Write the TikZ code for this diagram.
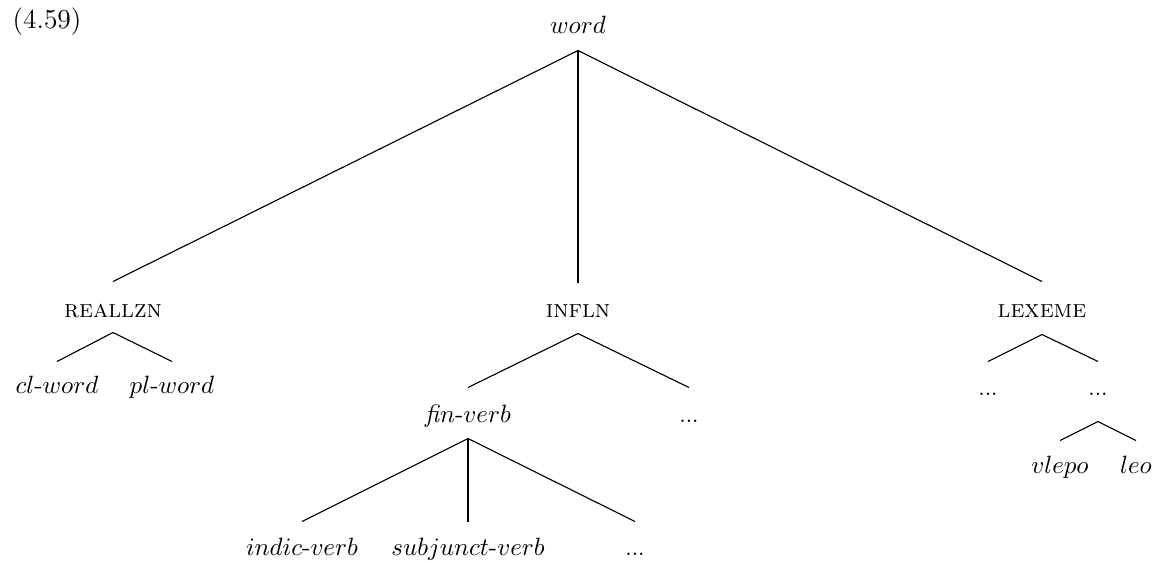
\documentclass[tikz,border=0pt]{standalone}
\usepackage{amsmath}
\usepackage{tikz}
\tikzset{
    cat/.style={
        rectangle,
        draw=none,
        inner sep=0pt,
        text height=7pt,
        text depth=2pt,
        anchor=base
    },
    branch/.style={
        line width=0.45pt
    },
}

\begin{document}
\begin{tikzpicture}[x=0.4pt, y=-0.4pt]
\useasboundingbox (0,0) rectangle (1158,562);

% Example number
\node[anchor=base, font=\fontsize{11}{13}\selectfont] (num) at (47,28) {(4.59)};

% Root
\node[cat] (word) at (578,33) {$word$};

% Level 1
\node[cat] (realzn) at (113,317) {\textsc{reallzn}};
\node[cat] (infln) at (578,317) {\textsc{infln}};
\node[cat] (lexeme) at (1042,317) {\textsc{lexeme}};

% Level 2
\node[cat] (clword) at (57,393) {$cl$-$word$};
\node[cat] (plword) at (172,393) {$pl$-$word$};
\node[cat] (finverb) at (468,422) {\textit{fi}$n$-$verb$};
\node[cat] (dotsA) at (689,422) {\small ...};
\node[cat] (dotsC) at (988,395) {\small ...};
\node[cat] (dotsD) at (1098,395) {\small ...};

% Level 3
\node[cat] (indic) at (302,555) {$indic$-$verb$};
\node[cat] (subj) at (468,555) {$subjunct$-$verb$};
\node[cat] (dotsB) at (635,555) {\small ...};
\node[cat] (vlepo) at (1060,473) {$vlepo$};
\node[cat] (leo) at (1136,473) {$leo$};

% Branches
\draw[branch] ([yshift=-4.8pt]word.south) -- ([yshift=7pt]realzn.north);
\draw[branch] ([yshift=-4.8pt]word.south) -- ([yshift=6.6pt]infln.north);
\draw[branch] ([yshift=-4.8pt]word.south) -- ([yshift=7pt]lexeme.north);

\draw[branch] ([yshift=-4pt]realzn.south) -- ([yshift=5.4pt]clword.north);
\draw[branch] ([yshift=-4pt]realzn.south) -- ([yshift=5.4pt]plword.north);

\draw[branch] ([yshift=-4.4pt]infln.south) -- ([yshift=6.6pt]finverb.north);
\draw[branch] ([yshift=-4.4pt]infln.south) -- ([yshift=6.6pt]dotsA.north);

\draw[branch] ([yshift=-4.4pt]finverb.south) -- ([yshift=6.2pt]indic.north);
\draw[branch] ([yshift=-4.4pt]finverb.south) -- ([yshift=6.2pt]subj.north);
\draw[branch] ([yshift=-4.4pt]finverb.south) -- ([yshift=6.2pt]dotsB.north);

\draw[branch] ([yshift=-4.8pt]lexeme.south) -- ([yshift=6.2pt]dotsC.north);
\draw[branch] ([yshift=-4.8pt]lexeme.south) -- ([yshift=6.2pt]dotsD.north);

\draw[branch] ([yshift=-8.4pt]dotsD.south) -- ([yshift=5.8pt]vlepo.north);
\draw[branch] ([yshift=-8.4pt]dotsD.south) -- ([yshift=5.8pt]leo.north);

\end{tikzpicture}
\end{document}
